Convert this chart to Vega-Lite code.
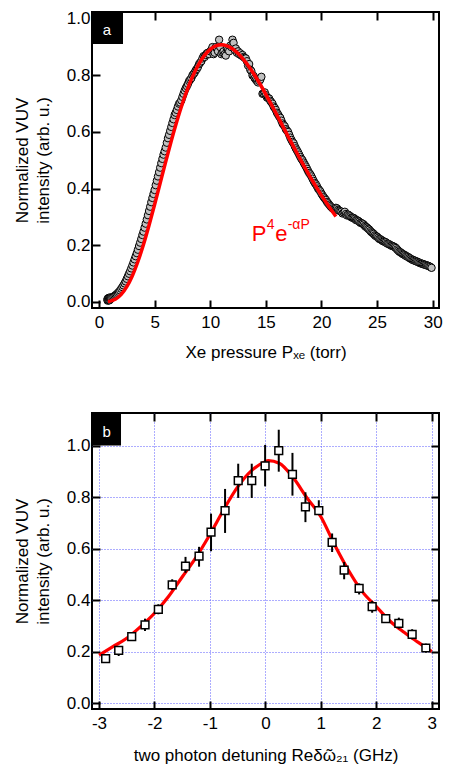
{
  "$schema": "https://vega.github.io/schema/vega-lite/v6.json",
  "padding": {"left": 12, "top": 8, "right": 5, "bottom": 0},
  "spacing": 50,
  "config": {
    "font": "Liberation Sans",
    "view": {"stroke": "#000", "strokeWidth": 2},
    "axis": {
      "domain": false, "ticks": true, "tickColor": "#000", "tickWidth": 2, "tickSize": -8,
      "labelColor": "#000", "labelFontSize": 17, "labelFont": "Liberation Sans",
      "labelFlush": false, "labelOverlap": false,
      "titleFont": "Liberation Sans", "titleFontSize": 17, "titleFontWeight": "normal", "titleColor": "#000",
      "grid": false
    },
    "axisY": {"labelPadding": 10, "titlePadding": 14, "titleLineHeight": 21},
    "axisX": {"labelPadding": 14, "titlePadding": 14}
  },
  "datasets": {
    "ptsA": [
      {"P":0.75,"v":0.008},{"P":0.78,"v":0.004},{"P":0.8,"v":0.012},{"P":0.83,"v":0.009},{"P":0.85,"v":0.006},{"P":0.88,"v":0.013},{"P":0.9,"v":0.01},{"P":0.93,"v":0.005},{"P":0.95,"v":0.015},{"P":0.98,"v":0.011},
      {"P":1.0,"v":0.008},{"P":1.03,"v":0.014},{"P":1.05,"v":0.012},{"P":1.1,"v":0.014},{"P":1.2,"v":0.016},{"P":1.3,"v":0.018},
      {"P":1.4,"v":0.021},{"P":1.5,"v":0.024},{"P":1.6,"v":0.027},{"P":1.7,"v":0.031},{"P":1.8,"v":0.035},
      {"P":1.9,"v":0.04},{"P":2.0,"v":0.046},{"P":2.1,"v":0.052},{"P":2.2,"v":0.058},{"P":2.3,"v":0.065},
      {"P":2.4,"v":0.072},{"P":2.5,"v":0.081},{"P":2.6,"v":0.09},{"P":2.7,"v":0.099},{"P":2.8,"v":0.108},
      {"P":2.9,"v":0.118},{"P":3.0,"v":0.128},{"P":3.1,"v":0.139},{"P":3.2,"v":0.15},{"P":3.3,"v":0.161},
      {"P":3.4,"v":0.172},{"P":3.5,"v":0.184},{"P":3.6,"v":0.197},{"P":3.7,"v":0.209},{"P":3.8,"v":0.222},
      {"P":3.9,"v":0.236},{"P":4.0,"v":0.248},{"P":4.1,"v":0.262},{"P":4.2,"v":0.276},{"P":4.3,"v":0.291},
      {"P":4.4,"v":0.306},{"P":4.5,"v":0.321},{"P":4.6,"v":0.336},{"P":4.7,"v":0.352},{"P":4.8,"v":0.367},
      {"P":4.9,"v":0.381},{"P":5.0,"v":0.395},{"P":5.1,"v":0.412},{"P":5.2,"v":0.428},{"P":5.3,"v":0.443},
      {"P":5.4,"v":0.458},{"P":5.5,"v":0.474},{"P":5.6,"v":0.49},{"P":5.7,"v":0.505},{"P":5.8,"v":0.52},
      {"P":5.9,"v":0.532},{"P":6.0,"v":0.545},{"P":6.1,"v":0.562},{"P":6.2,"v":0.578},{"P":6.3,"v":0.59},
      {"P":6.4,"v":0.604},{"P":6.5,"v":0.618},{"P":6.6,"v":0.632},{"P":6.7,"v":0.645},{"P":6.8,"v":0.66},
      {"P":6.9,"v":0.668},{"P":7.0,"v":0.678},{"P":7.1,"v":0.69},{"P":7.2,"v":0.7},{"P":7.3,"v":0.704},
      {"P":7.4,"v":0.712},{"P":7.5,"v":0.724},{"P":7.6,"v":0.735},{"P":7.7,"v":0.746},{"P":7.8,"v":0.755},
      {"P":7.9,"v":0.762},{"P":8.0,"v":0.77},{"P":8.1,"v":0.78},{"P":8.2,"v":0.785},{"P":8.3,"v":0.79},{"P":8.4,"v":0.8},{"P":8.5,"v":0.805},{"P":8.6,"v":0.81},{"P":8.7,"v":0.818},
      {"P":8.8,"v":0.823},{"P":8.9,"v":0.83},{"P":9.0,"v":0.84},{"P":9.1,"v":0.845},{"P":9.2,"v":0.85},{"P":9.3,"v":0.86},{"P":9.4,"v":0.868},{"P":9.5,"v":0.865},{"P":9.6,"v":0.872},{"P":9.7,"v":0.878},
      {"P":9.8,"v":0.88},{"P":9.9,"v":0.875},{"P":10.0,"v":0.885},{"P":10.1,"v":0.89},{"P":10.2,"v":0.9},{"P":10.3,"v":0.875},{"P":10.4,"v":0.88},{"P":10.5,"v":0.9},{"P":10.6,"v":0.895},{"P":10.7,"v":0.885},
      {"P":10.8,"v":0.926},{"P":10.9,"v":0.9},{"P":11.0,"v":0.875},{"P":11.1,"v":0.88},{"P":11.2,"v":0.885},{"P":11.3,"v":0.875},{"P":11.4,"v":0.87},{"P":11.5,"v":0.895},{"P":11.6,"v":0.89},{"P":11.7,"v":0.885},
      {"P":11.8,"v":0.905},{"P":11.9,"v":0.9},{"P":12.0,"v":0.926},{"P":12.1,"v":0.915},{"P":12.2,"v":0.89},{"P":12.3,"v":0.895},{"P":12.4,"v":0.88},{"P":12.5,"v":0.885},{"P":12.6,"v":0.875},{"P":12.7,"v":0.878},
      {"P":12.8,"v":0.87},{"P":12.9,"v":0.872},{"P":13.0,"v":0.865},{"P":13.1,"v":0.862},{"P":13.2,"v":0.86},{"P":13.3,"v":0.85},{"P":13.4,"v":0.835},{"P":13.5,"v":0.84},{"P":13.6,"v":0.82},{"P":13.7,"v":0.815},
      {"P":13.8,"v":0.8},{"P":13.9,"v":0.798},{"P":14.0,"v":0.79},{"P":14.1,"v":0.785},{"P":14.2,"v":0.78},{"P":14.3,"v":0.775},{"P":14.4,"v":0.78},{"P":14.5,"v":0.785},{"P":14.6,"v":0.795},
      {"P":14.7,"v":0.735},{"P":14.8,"v":0.735},{"P":14.9,"v":0.74},{"P":15.0,"v":0.73},{"P":15.1,"v":0.722},{"P":15.2,"v":0.72},{"P":15.3,"v":0.718},{"P":15.4,"v":0.71},{"P":15.5,"v":0.705},
      {"P":15.6,"v":0.7},{"P":15.7,"v":0.69},{"P":15.8,"v":0.685},{"P":15.9,"v":0.678},{"P":16.0,"v":0.668},{"P":16.1,"v":0.662},{"P":16.2,"v":0.655},{"P":16.3,"v":0.65},{"P":16.4,"v":0.64},{"P":16.5,"v":0.63},
      {"P":16.6,"v":0.625},{"P":16.7,"v":0.62},{"P":16.8,"v":0.61},{"P":16.9,"v":0.605},{"P":17.0,"v":0.6},{"P":17.1,"v":0.59},{"P":17.2,"v":0.58},{"P":17.3,"v":0.572},{"P":17.4,"v":0.565},{"P":17.5,"v":0.56},
      {"P":17.6,"v":0.55},{"P":17.7,"v":0.542},{"P":17.8,"v":0.535},{"P":17.9,"v":0.528},{"P":18.0,"v":0.52},{"P":18.1,"v":0.512},{"P":18.2,"v":0.505},{"P":18.3,"v":0.5},{"P":18.4,"v":0.492},{"P":18.5,"v":0.485},
      {"P":18.6,"v":0.478},{"P":18.7,"v":0.47},{"P":18.8,"v":0.462},{"P":18.9,"v":0.455},{"P":19.0,"v":0.45},{"P":19.1,"v":0.443},{"P":19.2,"v":0.435},{"P":19.3,"v":0.427},{"P":19.4,"v":0.42},{"P":19.5,"v":0.415},
      {"P":19.6,"v":0.408},{"P":19.7,"v":0.4},{"P":19.8,"v":0.395},{"P":19.9,"v":0.39},{"P":20.0,"v":0.382},{"P":20.1,"v":0.376},{"P":20.2,"v":0.37},{"P":20.3,"v":0.365},{"P":20.4,"v":0.36},{"P":20.5,"v":0.353},
      {"P":20.6,"v":0.348},{"P":20.7,"v":0.343},{"P":20.8,"v":0.338},{"P":20.9,"v":0.334},{"P":21.0,"v":0.33},{"P":21.1,"v":0.327},{"P":21.2,"v":0.325},{"P":21.3,"v":0.332},{"P":21.4,"v":0.33},{"P":21.5,"v":0.325},
      {"P":21.6,"v":0.322},{"P":21.7,"v":0.32},{"P":21.8,"v":0.318},{"P":21.9,"v":0.312},{"P":22.0,"v":0.315},{"P":22.1,"v":0.318},{"P":22.2,"v":0.31},{"P":22.3,"v":0.305},{"P":22.4,"v":0.308},{"P":22.5,"v":0.305},
      {"P":22.6,"v":0.302},{"P":22.7,"v":0.298},{"P":22.8,"v":0.297},{"P":22.9,"v":0.296},{"P":23.0,"v":0.293},{"P":23.1,"v":0.289},{"P":23.2,"v":0.288},{"P":23.3,"v":0.286},{"P":23.4,"v":0.283},{"P":23.5,"v":0.279},
      {"P":23.6,"v":0.278},{"P":23.7,"v":0.276},{"P":23.8,"v":0.273},{"P":23.9,"v":0.268},{"P":24.0,"v":0.265},{"P":24.1,"v":0.262},{"P":24.2,"v":0.258},{"P":24.3,"v":0.255},{"P":24.4,"v":0.25},{"P":24.5,"v":0.246},
      {"P":24.6,"v":0.243},{"P":24.7,"v":0.24},{"P":24.8,"v":0.235},{"P":24.9,"v":0.232},{"P":25.0,"v":0.23},{"P":25.1,"v":0.226},{"P":25.2,"v":0.222},{"P":25.3,"v":0.221},{"P":25.4,"v":0.218},{"P":25.5,"v":0.215},
      {"P":25.6,"v":0.213},{"P":25.7,"v":0.212},{"P":25.8,"v":0.21},{"P":25.9,"v":0.206},{"P":26.0,"v":0.205},{"P":26.1,"v":0.203},{"P":26.2,"v":0.2},{"P":26.3,"v":0.198},{"P":26.4,"v":0.197},{"P":26.5,"v":0.195},
      {"P":26.6,"v":0.193},{"P":26.7,"v":0.19},{"P":26.8,"v":0.185},{"P":26.9,"v":0.181},{"P":27.0,"v":0.177},{"P":27.1,"v":0.175},{"P":27.2,"v":0.172},{"P":27.3,"v":0.169},{"P":27.4,"v":0.167},{"P":27.5,"v":0.165},
      {"P":27.6,"v":0.162},{"P":27.7,"v":0.16},{"P":27.8,"v":0.158},{"P":27.9,"v":0.155},{"P":28.0,"v":0.153},{"P":28.1,"v":0.15},{"P":28.2,"v":0.148},{"P":28.3,"v":0.147},{"P":28.4,"v":0.145},{"P":28.5,"v":0.143},
      {"P":28.6,"v":0.142},{"P":28.7,"v":0.14},{"P":28.8,"v":0.138},{"P":28.9,"v":0.136},{"P":29.0,"v":0.135},{"P":29.1,"v":0.134},{"P":29.2,"v":0.132},{"P":29.3,"v":0.131},{"P":29.4,"v":0.13},{"P":29.5,"v":0.128},
      {"P":29.6,"v":0.127},{"P":29.7,"v":0.125},{"P":29.8,"v":0.123},{"P":29.9,"v":0.12}
    ],
    "fitA": [
      {"P":0.8,"v":0.001},{"P":1.0,"v":0.0024},{"P":1.5,"v":0.0099},{"P":2.0,"v":0.0262},{"P":2.5,"v":0.0533},
      {"P":3.0,"v":0.0921},{"P":3.5,"v":0.1423},{"P":4.0,"v":0.2024},{"P":4.5,"v":0.2704},{"P":5.0,"v":0.3436},
      {"P":5.5,"v":0.4194},{"P":6.0,"v":0.4952},{"P":6.5,"v":0.5687},{"P":7.0,"v":0.6376},{"P":7.5,"v":0.7006},
      {"P":8.0,"v":0.7562},{"P":8.5,"v":0.8036},{"P":9.0,"v":0.842},{"P":9.5,"v":0.8716},{"P":10.0,"v":0.8922},
      {"P":10.5,"v":0.9041},{"P":11.0,"v":0.908},{"P":11.5,"v":0.9043},{"P":12.0,"v":0.8939},{"P":12.5,"v":0.8775},
      {"P":13.0,"v":0.8559},{"P":13.5,"v":0.8299},{"P":14.0,"v":0.8003},{"P":14.5,"v":0.7678},{"P":15.0,"v":0.7331},
      {"P":15.5,"v":0.6969},{"P":16.0,"v":0.6597},{"P":16.5,"v":0.6221},{"P":17.0,"v":0.5845},{"P":17.5,"v":0.5472},
      {"P":18.0,"v":0.5107},{"P":18.5,"v":0.4751},{"P":19.0,"v":0.4407},{"P":19.5,"v":0.4077},{"P":20.0,"v":0.3761},
      {"P":20.5,"v":0.3462},{"P":21.0,"v":0.3178},{"P":21.3,"v":0.3016}
    ],
    "ptsB": [
      {"d":-2.88,"v":0.173,"lo":0.158,"hi":0.183},{"d":-2.645,"v":0.205,"lo":0.183,"hi":0.222},
      {"d":-2.41,"v":0.258,"lo":0.248,"hi":0.267},{"d":-2.17,"v":0.304,"lo":0.28,"hi":0.328},
      {"d":-1.93,"v":0.364,"lo":0.345,"hi":0.384},{"d":-1.68,"v":0.459,"lo":0.439,"hi":0.481},
      {"d":-1.44,"v":0.532,"lo":0.506,"hi":0.568},{"d":-1.196,"v":0.571,"lo":0.53,"hi":0.607},
      {"d":-0.98,"v":0.664,"lo":0.59,"hi":0.736},{"d":-0.727,"v":0.748,"lo":0.661,"hi":0.832},
      {"d":-0.49,"v":0.864,"lo":0.797,"hi":0.93},{"d":-0.246,"v":0.864,"lo":0.797,"hi":0.93},
      {"d":-0.005,"v":0.922,"lo":0.842,"hi":1.003},{"d":0.241,"v":0.981,"lo":0.899,"hi":1.062},
      {"d":0.488,"v":0.889,"lo":0.806,"hi":0.972},{"d":0.722,"v":0.762,"lo":0.703,"hi":0.819},
      {"d":0.963,"v":0.748,"lo":0.733,"hi":0.788},{"d":1.203,"v":0.624,"lo":0.587,"hi":0.659},
      {"d":1.42,"v":0.517,"lo":0.481,"hi":0.548},{"d":1.69,"v":0.446,"lo":0.422,"hi":0.465},
      {"d":1.925,"v":0.375,"lo":0.351,"hi":0.397},{"d":2.17,"v":0.328,"lo":0.315,"hi":0.341},
      {"d":2.406,"v":0.31,"lo":0.289,"hi":0.332},{"d":2.646,"v":0.267,"lo":0.248,"hi":0.287},
      {"d":2.893,"v":0.214,"lo":0.196,"hi":0.231}
    ],
    "fitB": [
      {"d":-3.0,"v":0.186},{"d":-2.75,"v":0.219},{"d":-2.5,"v":0.252},{"d":-2.25,"v":0.297},{"d":-2.0,"v":0.349},
      {"d":-1.75,"v":0.413},{"d":-1.5,"v":0.49},{"d":-1.25,"v":0.566},{"d":-1.0,"v":0.655},{"d":-0.75,"v":0.752},
      {"d":-0.5,"v":0.84},{"d":-0.25,"v":0.903},{"d":0.0,"v":0.938},{"d":0.05,"v":0.942},{"d":0.25,"v":0.932},
      {"d":0.5,"v":0.876},{"d":0.75,"v":0.797},{"d":1.0,"v":0.724},{"d":1.25,"v":0.614},{"d":1.5,"v":0.515},
      {"d":1.75,"v":0.432},{"d":2.0,"v":0.375},{"d":2.25,"v":0.318},{"d":2.5,"v":0.275},{"d":2.75,"v":0.237},
      {"d":3.0,"v":0.2}
    ]
  },
  "vconcat": [
    {
      "width": 347, "height": 296,
      "resolve": {"axis": {"x": "independent", "y": "independent"}},
      "layer": [
        {
          "data": {"name": "ptsA"},
          "mark": {"type": "circle", "fill": "#c0c0c0", "stroke": "#000", "strokeWidth": 1, "size": 55, "opacity": 1},
          "encoding": {
            "x": {"field": "P", "type": "quantitative", "scale": {"domain": [-0.63, 30.57], "nice": false, "zero": false},
                  "axis": {"orient": "bottom", "values": [0,5,10,15,20,25,30], "format": "d", "title": "Xe pressure Pₓₑ (torr)"}},
            "y": {"field": "v", "type": "quantitative", "scale": {"domain": [-0.022, 1.024], "nice": false, "zero": false},
                  "axis": {"orient": "left", "values": [0,0.2,0.4,0.6,0.8,1.0], "format": ".1f", "title": ["Normalized VUV", "intensity (arb. u.)"]}}
          }
        },
        {
          "data": {"name": "fitA"},
          "mark": {"type": "line", "color": "#ff0000", "strokeWidth": 3.5, "interpolate": "monotone"},
          "encoding": {
            "x": {"field": "P", "type": "quantitative", "axis": null},
            "y": {"field": "v", "type": "quantitative", "axis": null}
          }
        },
        {
          "data": {"values": [{"x1": -0.63, "x2": 2.16, "y1": 0.911, "y2": 1.024}]},
          "mark": {"type": "rect", "color": "#000"},
          "encoding": {
            "x": {"field": "x1", "type": "quantitative", "axis": {"orient": "top", "labels": false, "title": null, "values": [0,5,10,15,20,25,30]}},
            "x2": {"field": "x2"},
            "y": {"field": "y1", "type": "quantitative", "axis": null},
            "y2": {"field": "y2"}
          }
        },
        {
          "data": {"values": [{"x": 0.72, "y": 0.96, "t": "a"}]},
          "mark": {"type": "text", "color": "#fff", "fontSize": 15, "align": "center", "baseline": "middle"},
          "encoding": {
            "x": {"field": "x", "type": "quantitative", "axis": null},
            "y": {"field": "y", "type": "quantitative", "axis": null},
            "text": {"field": "t"}
          }
        },
        {
          "data": {"values": [{"x": 13.73, "y": 0.2155, "t": "P"}]},
          "mark": {"type": "text", "color": "#ff0000", "fontSize": 22, "align": "left", "baseline": "alphabetic"},
          "encoding": {
            "x": {"field": "x", "type": "quantitative", "axis": null},
            "y": {"field": "y", "type": "quantitative", "axis": null},
            "text": {"field": "t"}
          }
        },
        {
          "data": {"values": [{"x": 13.73, "y": 0.2155, "t": "4"}]},
          "mark": {"type": "text", "color": "#ff0000", "fontSize": 14, "align": "left", "baseline": "alphabetic", "dx": 15, "dy": -12},
          "encoding": {
            "x": {"field": "x", "type": "quantitative", "axis": null},
            "y": {"field": "y", "type": "quantitative", "axis": null},
            "text": {"field": "t"}
          }
        },
        {
          "data": {"values": [{"x": 13.73, "y": 0.2155, "t": "e"}]},
          "mark": {"type": "text", "color": "#ff0000", "fontSize": 22, "align": "left", "baseline": "alphabetic", "dx": 23.5},
          "encoding": {
            "x": {"field": "x", "type": "quantitative", "axis": null},
            "y": {"field": "y", "type": "quantitative", "axis": null},
            "text": {"field": "t"}
          }
        },
        {
          "data": {"values": [{"x": 13.73, "y": 0.2155, "t": "-αP"}]},
          "mark": {"type": "text", "color": "#ff0000", "fontSize": 14, "align": "left", "baseline": "alphabetic", "dx": 36, "dy": -12},
          "encoding": {
            "x": {"field": "x", "type": "quantitative", "axis": null},
            "y": {"field": "y", "type": "quantitative", "axis": null},
            "text": {"field": "t"}
          }
        }
      ]
    },
    {
      "width": 347, "height": 296,
      "resolve": {"axis": {"x": "independent", "y": "independent"}},
      "layer": [
        {
          "data": {"name": "fitB"},
          "mark": {"type": "line", "color": "#ff0000", "strokeWidth": 3.2, "interpolate": "monotone"},
          "encoding": {
            "x": {"field": "d", "type": "quantitative", "scale": {"domain": [-3.126, 3.13], "nice": false, "zero": false},
                  "axis": {"orient": "bottom", "values": [-3,-2,-1,0,1,2,3], "labelExpr": "datum.value < 0 ? '-' + abs(datum.value) : '' + datum.value",
                           "title": "two photon detuning Reδῶ₂₁ (GHz)", "titlePadding": 16, "grid": true, "gridColor": "#5b5bff", "gridDash": [1, 2], "gridWidth": 1}},
            "y": {"field": "v", "type": "quantitative", "scale": {"domain": [-0.023, 1.127], "nice": false, "zero": false},
                  "axis": {"orient": "left", "values": [0,0.2,0.4,0.6,0.8,1.0], "format": ".1f", "title": ["Normalized VUV", "intensity (arb. u.)"],
                           "grid": true, "gridColor": "#5b5bff", "gridDash": [1, 2], "gridWidth": 1}}
          }
        },
        {
          "data": {"name": "ptsB"},
          "mark": {"type": "rule", "color": "#000", "strokeWidth": 2},
          "encoding": {
            "x": {"field": "d", "type": "quantitative", "axis": null},
            "y": {"field": "lo", "type": "quantitative", "axis": null},
            "y2": {"field": "hi"}
          }
        },
        {
          "data": {"name": "ptsB"},
          "mark": {"type": "point", "shape": "square", "filled": false, "fill": "#fff", "stroke": "#000", "strokeWidth": 1.5, "size": 60, "opacity": 1},
          "encoding": {
            "x": {"field": "d", "type": "quantitative", "axis": null},
            "y": {"field": "v", "type": "quantitative", "axis": null}
          }
        },
        {
          "data": {"values": [{"x1": -3.126, "x2": -2.603, "y1": 1.001, "y2": 1.127}]},
          "mark": {"type": "rect", "color": "#000"},
          "encoding": {
            "x": {"field": "x1", "type": "quantitative", "axis": {"orient": "top", "labels": false, "title": null, "values": [-3,-2,-1,0,1,2,3]}},
            "x2": {"field": "x2"},
            "y": {"field": "y1", "type": "quantitative", "axis": {"orient": "right", "labels": false, "title": null, "values": [0,0.2,0.4,0.6,0.8,1.0]}},
            "y2": {"field": "y2"}
          }
        },
        {
          "data": {"values": [{"x": -2.861, "y": 1.055, "t": "b"}]},
          "mark": {"type": "text", "color": "#fff", "fontSize": 15, "align": "center", "baseline": "middle"},
          "encoding": {
            "x": {"field": "x", "type": "quantitative", "axis": null},
            "y": {"field": "y", "type": "quantitative", "axis": null},
            "text": {"field": "t"}
          }
        }
      ]
    }
  ]
}
